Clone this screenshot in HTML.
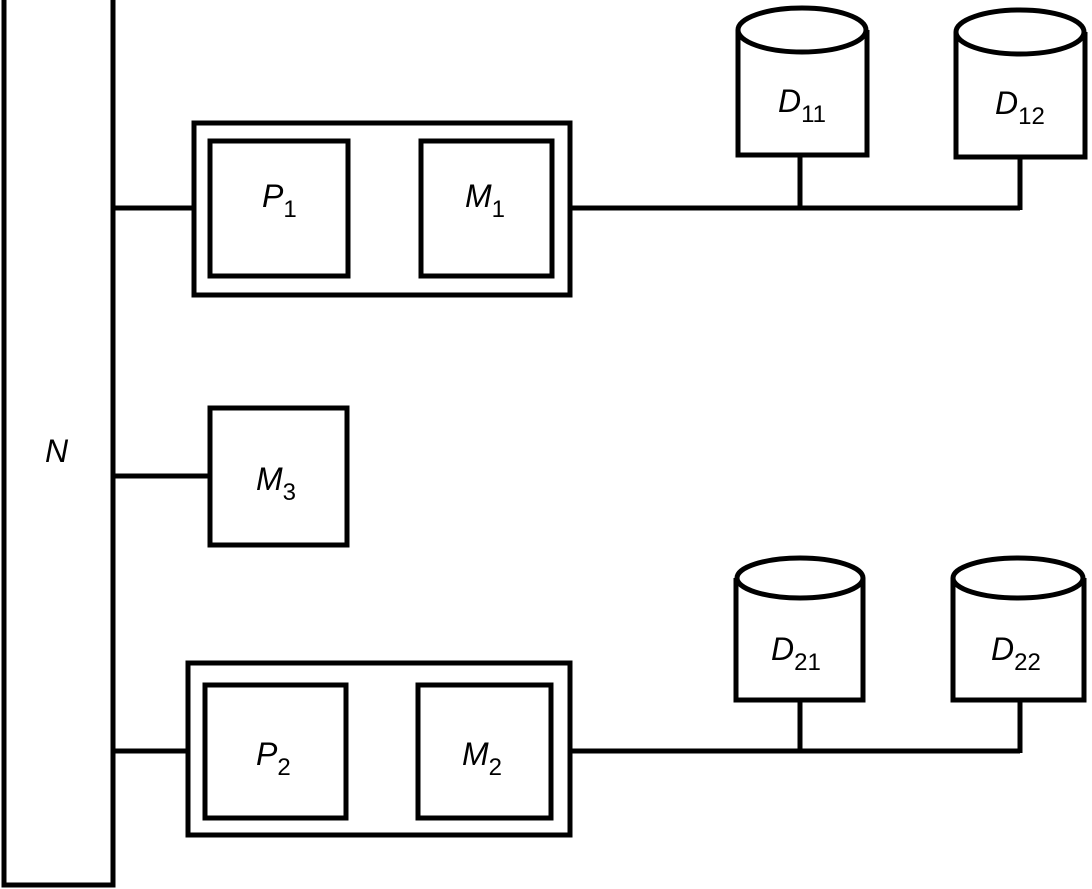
<!DOCTYPE html>
<html><head><style>body{margin:0;background:#fff}svg{display:block}</style></head><body>
<svg width="1092" height="889" viewBox="0 0 1092 889" xmlns="http://www.w3.org/2000/svg">
<g fill="none" stroke="#000" stroke-width="5">
<rect x="4" y="-5" width="109" height="890"/>
<line x1="113" y1="208" x2="193" y2="208"/>
<rect x="194" y="123" width="376" height="172"/>
<rect x="210" y="141" width="138" height="135"/>
<rect x="421" y="141" width="131" height="135"/>
<line x1="570" y1="208" x2="1020" y2="208"/>
<line x1="800" y1="155" x2="800" y2="208"/>
<line x1="1020" y1="157" x2="1020" y2="210"/>
<line x1="113" y1="476" x2="210" y2="476"/>
<rect x="210" y="408" width="137" height="137"/>
<line x1="113" y1="751" x2="188" y2="751"/>
<rect x="188" y="663" width="382" height="172"/>
<rect x="205" y="685" width="141" height="133"/>
<rect x="418" y="685" width="133" height="133"/>
<line x1="570" y1="751" x2="1020" y2="751"/>
<line x1="800" y1="700" x2="800" y2="751"/>
<line x1="1020" y1="700" x2="1020" y2="753"/>
<path d="M738 30 V155 H867 V30"/><ellipse cx="802" cy="30" rx="64" ry="22"/>
<path d="M956 32 V157 H1085 V32"/><ellipse cx="1020" cy="32" rx="64" ry="22"/>
<path d="M736 578 V700 H863 V578"/><ellipse cx="800" cy="578" rx="63" ry="20"/>
<path d="M953 578 V700 H1084 V578"/><ellipse cx="1018" cy="578" rx="65" ry="20"/>
</g>
<g font-family="Liberation Sans, sans-serif" font-size="32" font-style="italic" fill="#000">
<text x="45" y="462">N</text>
<text x="262" y="207">P<tspan font-style="normal" font-size="24" dy="10">1</tspan></text>
<text x="465" y="207">M<tspan font-style="normal" font-size="24" dy="10">1</tspan></text>
<text x="256" y="490">M<tspan font-style="normal" font-size="24" dy="10">3</tspan></text>
<text x="256" y="765">P<tspan font-style="normal" font-size="24" dy="10">2</tspan></text>
<text x="462" y="765">M<tspan font-style="normal" font-size="24" dy="10">2</tspan></text>
<text x="778" y="112">D<tspan font-style="normal" font-size="24" dy="10">11</tspan></text>
<text x="995" y="114">D<tspan font-style="normal" font-size="24" dy="10">12</tspan></text>
<text x="771" y="660">D<tspan font-style="normal" font-size="24" dy="10">21</tspan></text>
<text x="991" y="660">D<tspan font-style="normal" font-size="24" dy="10">22</tspan></text>
</g>
</svg>
</body></html>
